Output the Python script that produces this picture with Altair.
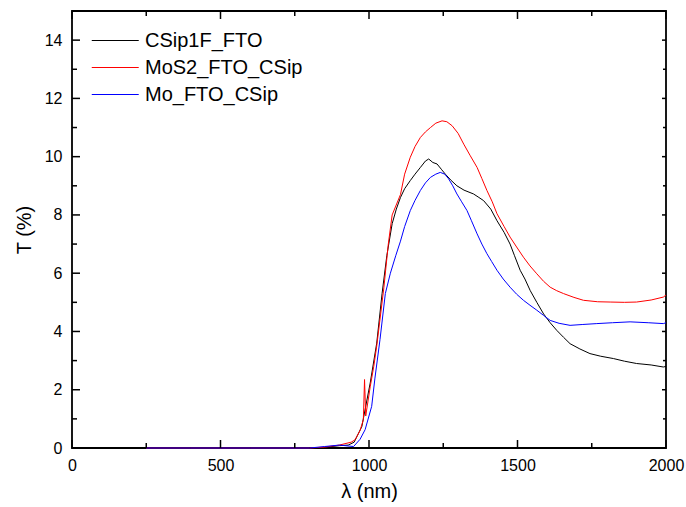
import altair as alt
import pandas as pd

# ---- data ----
series_names = ["CSip1F_FTO", "MoS2_FTO_CSip", "Mo_FTO_CSip"]
series_colors = ["#000000", "#ff0000", "#0000ff"]

black_x = [250, 400, 600, 800, 850, 900, 930, 950, 976, 1004, 1026, 1044, 1060, 1078, 1092, 1106, 1120, 1139,
           1155, 1173, 1190, 1201, 1215, 1229, 1245, 1257, 1275, 1296, 1320, 1352, 1370, 1386, 1410, 1431,
           1455, 1475, 1490, 1509, 1525, 1543, 1565, 1588, 1610, 1632, 1655, 1677, 1710, 1744, 1780, 1823,
           1860, 1901, 1950, 1991, 2000]
black_y = [0, 0, 0, 0, 0.02, 0.08, 0.1, 0.2, 0.74, 2.23, 3.6, 5.3, 6.6, 7.7, 8.2, 8.6, 8.9, 9.18,
           9.4, 9.63, 9.85, 9.92, 9.8, 9.75, 9.55, 9.4, 9.2, 9.0, 8.85, 8.72, 8.6, 8.49, 8.2, 7.8,
           7.4, 7.0, 6.6, 6.1, 5.8, 5.4, 5.0, 4.6, 4.3, 4.04, 3.8, 3.58, 3.4, 3.24, 3.15, 3.07,
           2.98, 2.9, 2.85, 2.78, 2.8]

red_x = [250, 400, 600, 800, 850, 900, 940, 953, 970, 981, 985, 989, 1004, 1016, 1026, 1050, 1065, 1078,
         1106, 1120, 1139, 1155, 1173, 1190, 1207, 1225, 1246, 1262, 1280, 1300, 1319, 1340, 1364, 1380,
         1397, 1415, 1431, 1455, 1475, 1497, 1520, 1542, 1565, 1588, 1610, 1632, 1655, 1690, 1722, 1770,
         1812, 1860, 1901, 1950, 1991, 2000]
red_y = [0, 0, 0, 0, 0.03, 0.1, 0.2, 0.28, 0.6, 0.97, 2.35, 1.1, 2.1, 2.8, 3.5, 5.5, 7.0, 8.0,
         8.7, 9.4, 9.98, 10.35, 10.66, 10.85, 11.0, 11.15, 11.23, 11.2, 11.06, 10.8, 10.43, 10.05, 9.63, 9.25,
         8.84, 8.45, 8.04, 7.6, 7.24, 6.9, 6.55, 6.25, 5.98, 5.72, 5.52, 5.4, 5.3, 5.17, 5.07, 5.02,
         5.01, 5.0, 5.01, 5.08, 5.18, 5.25]

blue_x = [250, 400, 600, 800, 850, 900, 948, 970, 987, 1009, 1020, 1037, 1055, 1072, 1090, 1106, 1120, 1139,
          1155, 1173, 1190, 1207, 1225, 1240, 1255, 1268, 1282, 1296, 1312, 1330, 1345, 1364, 1380, 1397,
          1413, 1431, 1452, 1475, 1497, 1520, 1542, 1565, 1588, 1610, 1640, 1677, 1720, 1767, 1820, 1879,
          1940, 1991, 2000]
blue_y = [0, 0, 0, 0, 0.05, 0.1, 0.05, 0.3, 0.63, 1.43, 2.4, 3.72, 5.3, 6.0, 6.6, 7.1, 7.6, 8.15,
          8.5, 8.84, 9.1, 9.29, 9.4, 9.46, 9.4, 9.24, 9.0, 8.72, 8.45, 8.15, 7.8, 7.35, 7.0, 6.67,
          6.4, 6.1, 5.8, 5.52, 5.28, 5.07, 4.9, 4.73, 4.55, 4.38, 4.28, 4.21, 4.24, 4.27, 4.3, 4.33,
          4.3, 4.27, 4.3]

x_major = [0, 500, 1000, 1500, 2000]
x_minor = [250, 750, 1250, 1750]
y_major = [0, 2, 4, 6, 8, 10, 12, 14]
y_minor = [1, 3, 5, 7, 9, 11, 13]

# ---- tables ----
frames = []
for name, xs, ys, order in [(series_names[0], black_x, black_y, 0),
                            (series_names[1], red_x, red_y, 1),
                            (series_names[2], blue_x, blue_y, 2)]:
    frames.append(pd.DataFrame({"wl": xs, "T": ys, "sample": name, "ord": order}))
df = pd.concat(frames, ignore_index=True)

xmaj = pd.DataFrame({"wl": x_major})
xmin = pd.DataFrame({"wl": x_minor})
ymaj = pd.DataFrame({"T": y_major})
ymin = pd.DataFrame({"T": y_minor})

FONT = "Liberation Sans"
W, H = 594, 437

xscale = alt.Scale(domain=[0, 2000], nice=False, zero=False)
yscale = alt.Scale(domain=[0, 15], nice=False, zero=False)

lines = alt.Chart(df).mark_line(strokeWidth=1).encode(
    x=alt.X("wl:Q", scale=xscale,
            axis=alt.Axis(title="λ (nm)", values=x_major, ticks=False, domain=False, grid=False,
                          labelFlush=False, labelPadding=9, titlePadding=8, format="d")),
    y=alt.Y("T:Q", scale=yscale,
            axis=alt.Axis(title="T (%)", values=y_major, ticks=False, domain=False, grid=False,
                          labelFlush=False, labelPadding=10, titlePadding=10, format="d")),
    color=alt.Color("sample:N",
                    scale=alt.Scale(domain=series_names, range=series_colors),
                    legend=alt.Legend(title=None, orient="none", legendX=19, legendY=17,
                                      symbolType="M-1,0H3", symbolSize=552, symbolStrokeWidth=1,
                                      labelFontSize=20, labelFont=FONT, labelColor="black",
                                      rowPadding=4, labelOffset=29, padding=0)),
    detail="sample:N",
    order="ord:Q",
)

def xticks(data, size, bottom):
    return alt.Chart(data).mark_rule(color="black", strokeWidth=1.5,
                                     y2Offset=(-size if bottom else size)).encode(
        x=alt.X("wl:Q", scale=xscale),
        y=alt.datum(0 if bottom else 15),
        y2=alt.datum(0 if bottom else 15),
    )

def yticks(data, size, left):
    return alt.Chart(data).mark_rule(color="black", strokeWidth=1.5,
                                     x2Offset=(size if left else -size)).encode(
        y=alt.Y("T:Q", scale=yscale),
        x=alt.datum(0 if left else 2000),
        x2=alt.datum(0 if left else 2000),
    )

chart = alt.layer(
    lines,
    xticks(xmaj, 8, True), xticks(xmin, 5, True),
    xticks(xmaj, 8, False), xticks(xmin, 5, False),
    yticks(ymaj, 8, True), yticks(ymin, 5, True),
    yticks(ymaj, 4, False), yticks(ymin, 3, False),
).properties(
    width=W, height=H,
    autosize=alt.AutoSizeParams(type="none"),
    padding={"left": 72, "top": 11, "right": 20, "bottom": 59},
    background="white",
).configure_view(
    stroke="black", strokeWidth=1.8
).configure_axis(
    labelFont=FONT, titleFont=FONT, labelFontSize=16, titleFontSize=20,
    labelColor="black", titleColor="black", titleFontWeight="normal",
)

chart.save("out.html", embed_options={"renderer": "svg", "actions": False})
